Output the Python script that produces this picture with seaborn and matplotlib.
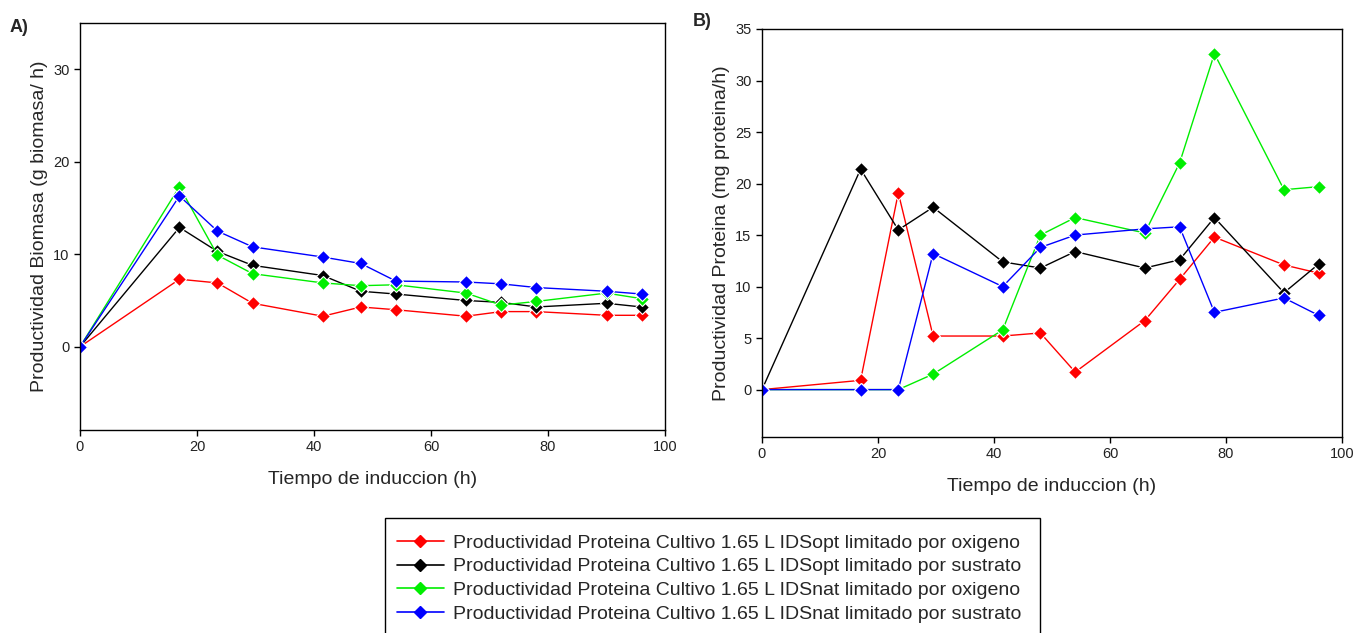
import numpy as np
import pandas as pd
import matplotlib
matplotlib.use("Agg")
import matplotlib.pyplot as plt
import seaborn as sns
from matplotlib.lines import Line2D
from matplotlib.patches import Rectangle

sns.set_theme(style="ticks")
plt.rcParams['font.family'] = ['Liberation Sans', 'DejaVu Sans']

tiempo = [0, 17, 23.5, 29.5, 41.5, 48, 54, 66, 72, 78, 90, 96]

series_names = [
    "Productividad Proteina Cultivo 1.65 L IDSopt limitado por oxigeno",
    "Productividad Proteina Cultivo 1.65 L IDSopt limitado por sustrato",
    "Productividad Proteina Cultivo 1.65 L IDSnat limitado por oxigeno",
    "Productividad Proteina Cultivo 1.65 L IDSnat limitado por sustrato",
]
colors = ["#ff0000", "#000000", "#00ee00", "#0000ff"]

# Panel A: biomass productivity
bio_opt_oxi = [0, 7.3, 6.9, 4.7, 3.3, 4.3, 4.0, 3.3, 3.8, 3.8, 3.4, 3.4]
bio_opt_sus = [0, 12.9, 10.3, 8.8, 7.7, 6.0, 5.7, 5.0, 4.8, 4.3, 4.7, 4.3]
bio_nat_oxi = [0, 17.3, 9.9, 7.9, 6.9, 6.6, 6.7, 5.8, 4.5, 4.9, 5.8, 5.2]
bio_nat_sus = [0, 16.3, 12.5, 10.8, 9.7, 9.0, 7.1, 7.0, 6.8, 6.4, 6.0, 5.7]

# Panel B: protein productivity
prot_opt_oxi = [0, 0.9, 19.1, 5.2, 5.2, 5.5, 1.7, 6.7, 10.7, 14.8, 12.1, 11.3]
prot_opt_sus = [0, 21.4, 15.5, 17.7, 12.4, 11.8, 13.4, 11.8, 12.6, 16.7, 9.4, 12.2]
prot_nat_oxi = [0, 0, 0, 1.5, 5.8, 15.0, 16.7, 15.2, 22.0, 32.6, 19.4, 19.7]
prot_nat_sus = [0, 0, 0, 13.2, 10.0, 13.8, 15.0, 15.6, 15.8, 7.5, 8.9, 7.2]


def long_df(vals):
    rows = []
    for name, v in zip(series_names, vals):
        for t, y in zip(tiempo, v):
            rows.append({"t": t, "y": y, "serie": name})
    return pd.DataFrame(rows)


dfA = long_df([bio_opt_oxi, bio_opt_sus, bio_nat_oxi, bio_nat_sus])
dfB = long_df([prot_opt_oxi, prot_opt_sus, prot_nat_oxi, prot_nat_sus])
palette = dict(zip(series_names, colors))

W, H = 1356, 633
fig = plt.figure(figsize=(W / 100, H / 100), dpi=100)
axA = fig.add_axes([80 / W, 1 - 430 / H, 585 / W, 407 / H])
axB = fig.add_axes([762 / W, 1 - 437 / H, 580 / W, 408 / H])

for ax, df in [(axA, dfA), (axB, dfB)]:
    sns.lineplot(data=df, x="t", y="y", hue="serie", palette=palette,
                 marker="D", markersize=7, markeredgewidth=0.8,
                 linewidth=1.0, sort=False, estimator=None, legend=False, ax=ax)
    ax.set_xlim(0, 100)
    ax.set_xticks([0, 20, 40, 60, 80, 100])
    ax.set_xlabel("Tiempo de induccion (h)", fontsize=14, labelpad=12)
    for s in ax.spines.values():
        s.set_linewidth(1.0)
        s.set_color("black")
    ax.tick_params(axis="both", labelsize=10.5, direction="out", length=4,
                   width=1, colors="black", labelcolor="#222222",
                   top=False, right=False)

axA.set_ylim(-9, 35)
axA.set_yticks([0, 10, 20, 30])
axA.set_ylabel("Productividad Biomasa (g biomasa/ h)", fontsize=14, labelpad=4)

axB.set_ylim(-4.6, 35)
axB.set_yticks([0, 5, 10, 15, 20, 25, 30, 35])
axB.set_ylabel("Productividad Proteina (mg proteina/h)", fontsize=14, labelpad=4)

fig.text(10 / W, 1 - 28 / H, "A)", fontsize=13, fontweight="bold", va="center")
fig.text(693 / W, 1 - 22 / H, "B)", fontsize=13, fontweight="bold", va="center")

# legend box running off the bottom edge
fig.patches.append(Rectangle((385 / W, -0.05), (1040 - 385) / W, 0.05 + (H - 518) / H,
                             transform=fig.transFigure, facecolor="white",
                             edgecolor="black", linewidth=1.0, zorder=0))
handles = [Line2D([0], [0], color=c, marker="D", markersize=6, linewidth=1.2)
           for c in colors]
leg = fig.legend(handles, series_names, loc="upper left",
                 bbox_to_anchor=(397 / W, 1 - 534 / H),
                 fontsize=14, frameon=False, handlelength=2.4,
                 labelspacing=0.32, borderpad=0, borderaxespad=0,
                 handletextpad=0.5)

fig.savefig("out.png", dpi=100)
